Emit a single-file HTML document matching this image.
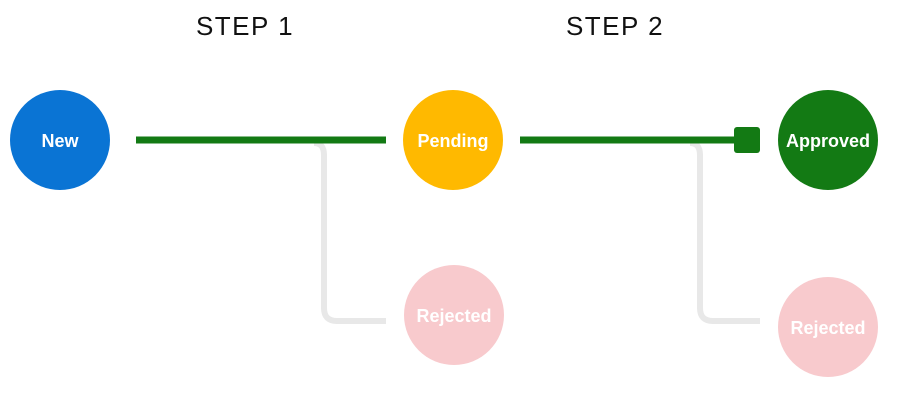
<!DOCTYPE html>
<html><head><style>
html,body{margin:0;padding:0;background:#fff;}
</style></head><body>
<svg width="903" height="407" viewBox="0 0 903 407" xmlns="http://www.w3.org/2000/svg">
<rect width="903" height="407" fill="#fff"/>
<text x="245" y="35" font-family="Liberation Sans, sans-serif" font-size="26" text-anchor="middle" fill="#111" letter-spacing="1.5">STEP 1</text>
<text x="615" y="35" font-family="Liberation Sans, sans-serif" font-size="26" text-anchor="middle" fill="#111" letter-spacing="1.5">STEP 2</text>
<path d="M314 143 Q324 143 324 155 L324 308 Q324 321 337 321 L386 321" fill="none" stroke="#e8e8e8" stroke-width="6"/>
<path d="M690 143 Q700 143 700 155 L700 308 Q700 321 713 321 L760 321" fill="none" stroke="#e8e8e8" stroke-width="6"/>
<line x1="136" y1="140" x2="386" y2="140" stroke="#137a14" stroke-width="7"/>
<line x1="520" y1="140" x2="740" y2="140" stroke="#137a14" stroke-width="7"/>
<rect x="734" y="127" width="26" height="26" rx="3" fill="#137a14"/>
<g font-family="Liberation Sans, sans-serif" font-weight="bold" font-size="18" fill="#fff" text-anchor="middle">
<circle cx="60" cy="140" r="50" fill="#0a74d4"/><text x="60" y="147">New</text>
<circle cx="453" cy="140" r="50" fill="#ffb900"/><text x="453" y="147">Pending</text>
<circle cx="828" cy="140" r="50" fill="#137a14"/><text x="828" y="147">Approved</text>
<circle cx="454" cy="315" r="50" fill="#f8cacd"/><text x="454" y="322">Rejected</text>
<circle cx="828" cy="327" r="50" fill="#f8cacd"/><text x="828" y="334">Rejected</text>
</g>
</svg>
</body></html>
